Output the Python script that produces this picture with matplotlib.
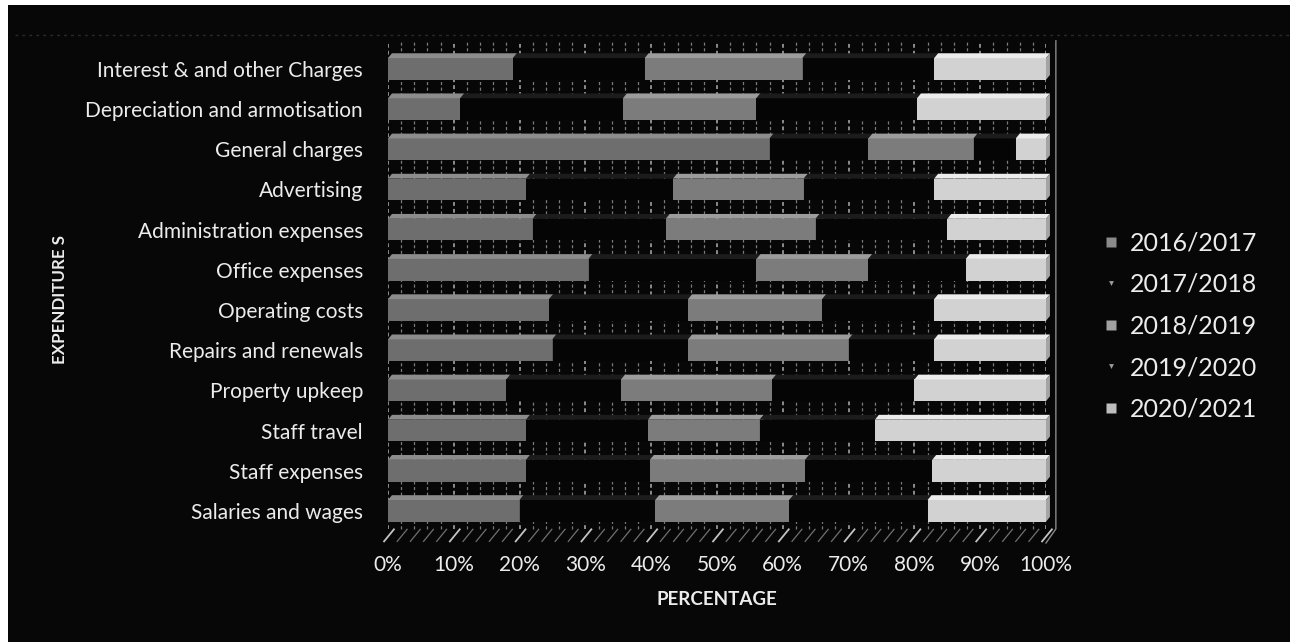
import numpy as np
import matplotlib
matplotlib.use("Agg")
import matplotlib.pyplot as plt
from matplotlib.patches import Polygon, Rectangle
from matplotlib.lines import Line2D

# Expenditure categories, listed top to bottom
categories = [
    "Interest & and other Charges",
    "Depreciation and armotisation",
    "General charges",
    "Advertising",
    "Administration expenses",
    "Office expenses",
    "Operating costs",
    "Repairs and renewals",
    "Property upkeep",
    "Staff travel",
    "Staff expenses",
    "Salaries and wages",
]

years = ["2016/2017", "2017/2018", "2018/2019", "2019/2020", "2020/2021"]

fy_2016_17 = [19.0, 11.0, 58.0, 21.0, 22.0, 30.5, 24.5, 25.0, 18.0, 21.0, 21.0, 20.0]
fy_2017_18 = [20.0, 24.7, 15.0, 22.3, 20.2, 25.5, 21.1, 20.6, 17.4, 18.5, 18.8, 20.6]
fy_2018_19 = [24.0, 20.3, 16.0, 19.9, 22.8, 17.0, 20.4, 24.4, 23.0, 17.0, 23.6, 20.4]
fy_2019_20 = [20.0, 24.4, 6.4, 19.8, 20.0, 14.8, 17.0, 13.0, 21.6, 17.5, 19.3, 21.0]
fy_2020_21 = [17.0, 19.6, 4.6, 17.0, 15.0, 12.2, 17.0, 17.0, 20.0, 26.0, 17.3, 18.0]

x_ticks = [0, 10, 20, 30, 40, 50, 60, 70, 80, 90, 100]
x_tick_labels = ["0%", "10%", "20%", "30%", "40%", "50%", "60%", "70%", "80%", "90%", "100%"]

series = [fy_2016_17, fy_2017_18, fy_2018_19, fy_2019_20, fy_2020_21]
face_colors = ["#6e6e6e", "#050505", "#7c7c7c", "#050505", "#d2d2d2"]
top_colors = ["#8c8c8c", "#1c1c1c", "#9c9c9c", "#1c1c1c", "#ececec"]
side_colors = ["#4a4a4a", "#0a0a0a", "#555555", "#0a0a0a", "#a4a4a4"]
legend_colors = ["#8a8a8a", "#9a9a9a", "#a0a0a0", "#9a9a9a", "#bdbdbd"]

BG = "#070707"
TXT = "#ececec"

plt.rcParams["font.family"] = ["Lato", "DejaVu Sans"]

W, H = 1295, 642
fig = plt.figure(figsize=(W / 100, H / 100), dpi=100, facecolor="white")

# dark chart panel behind everything
fig.patches.append(Rectangle((8 / W, 0), (1290 - 8) / W, (H - 5) / H,
                             transform=fig.transFigure, facecolor=BG,
                             edgecolor="none", zorder=-10))
fig.add_artist(Line2D([15 / W, 1290 / W], [1 - 35 / H, 1 - 35 / H],
                      transform=fig.transFigure, color="#2a2a2a", lw=1,
                      linestyle=(0, (2, 3)), zorder=-5))

ax_left, ax_right = 388 / W, 1046 / W
ax_top, ax_bottom = 1 - 40 / H, 1 - 545 / H
ax = fig.add_axes([ax_left, ax_bottom, ax_right - ax_left, ax_top - ax_bottom])
ax.set_facecolor("none")

n = len(categories)
ypos = np.arange(n)[::-1]  # first category at top
data = np.array(series, dtype=float)
pct = data / data.sum(axis=0) * 100.0

ax.set_xlim(0, 100)
ax.set_ylim(-0.85, n - 1 + 0.72)

# gridlines: minor every 2%, major every 10%
for gx in np.arange(0, 101, 2):
    major = gx % 10 == 0
    ax.plot([gx, gx], [-0.45, n - 1 + 0.7], color="#b0b0b0" if major else "#7a7a7a",
            lw=1.1 if major else 0.9, linestyle=(0, (2.5, 2.0)), zorder=1)

# floor hatching
for gx in np.arange(0, 101, 2):
    major = gx % 10 == 0
    ax.plot([gx - 0.6, gx + 0.9], [-0.76, -0.46], color="#c4c4c4" if major else "#707070",
            lw=1.3 if major else 0.9, zorder=1, clip_on=False)

# back wall right edge
ax.plot([101.5, 101.5, 100.0], [n - 1 + 0.7, -0.45, -0.8], color="#8a8a8a", lw=1.0,
        zorder=1, clip_on=False)

bar_h = 0.54
dx, dy = 0.6, 0.12
left = np.zeros(n)
for k in range(len(series)):
    vals = pct[k]
    ax.barh(ypos, vals, left=left, height=bar_h, color=face_colors[k],
            edgecolor="none", zorder=3)
    for i in range(n):
        x0, x1 = left[i], left[i] + vals[i]
        yt = ypos[i] + bar_h / 2
        yb = ypos[i] - bar_h / 2
        ax.add_patch(Polygon([(x0, yt), (x1, yt), (x1 + dx, yt + dy), (x0 + dx, yt + dy)],
                             closed=True, facecolor=top_colors[k], edgecolor="none",
                             zorder=3, clip_on=False))
        ax.add_patch(Polygon([(x1, yb), (x1, yt), (x1 + dx, yt + dy), (x1 + dx, yb + dy)],
                             closed=True, facecolor=side_colors[k], edgecolor="none",
                             zorder=3, clip_on=False))
    left = left + vals

ax.set_yticks(ypos)
ax.set_yticklabels(categories, fontsize=15, color=TXT)
ax.set_xticks(x_ticks)
ax.set_xticklabels(x_tick_labels, fontsize=15, color=TXT)
ax.tick_params(axis="y", length=0, pad=18)
ax.tick_params(axis="x", length=0, pad=7)
for s in ax.spines.values():
    s.set_visible(False)

ax.set_xlabel("PERCENTAGE", fontsize=13.5, fontweight="bold", color=TXT, labelpad=12)
fig.text(60 / W, 1 - 299 / H, "EXPENDITURE S", rotation=90, ha="center", va="center",
         fontsize=12.2, fontweight="bold", color=TXT)

handles = []
for k, yr in enumerate(years):
    if k in (1, 3):
        h = Line2D([], [], linestyle="none", marker="v", markersize=3.5,
                   markerfacecolor=legend_colors[k], markeredgecolor="none")
    else:
        h = Line2D([], [], linestyle="none", marker="s", markersize=7.5,
                   markerfacecolor=legend_colors[k], markeredgecolor="none")
    handles.append(h)
leg = fig.legend(handles, years, loc="upper left", bbox_to_anchor=(1080 / W, 1 - 209 / H),
                 frameon=False, fontsize=18, labelcolor=TXT, handlelength=0.7,
                 handletextpad=0.4, labelspacing=0.74)

fig.savefig("out.png", dpi=100, facecolor=fig.get_facecolor())
